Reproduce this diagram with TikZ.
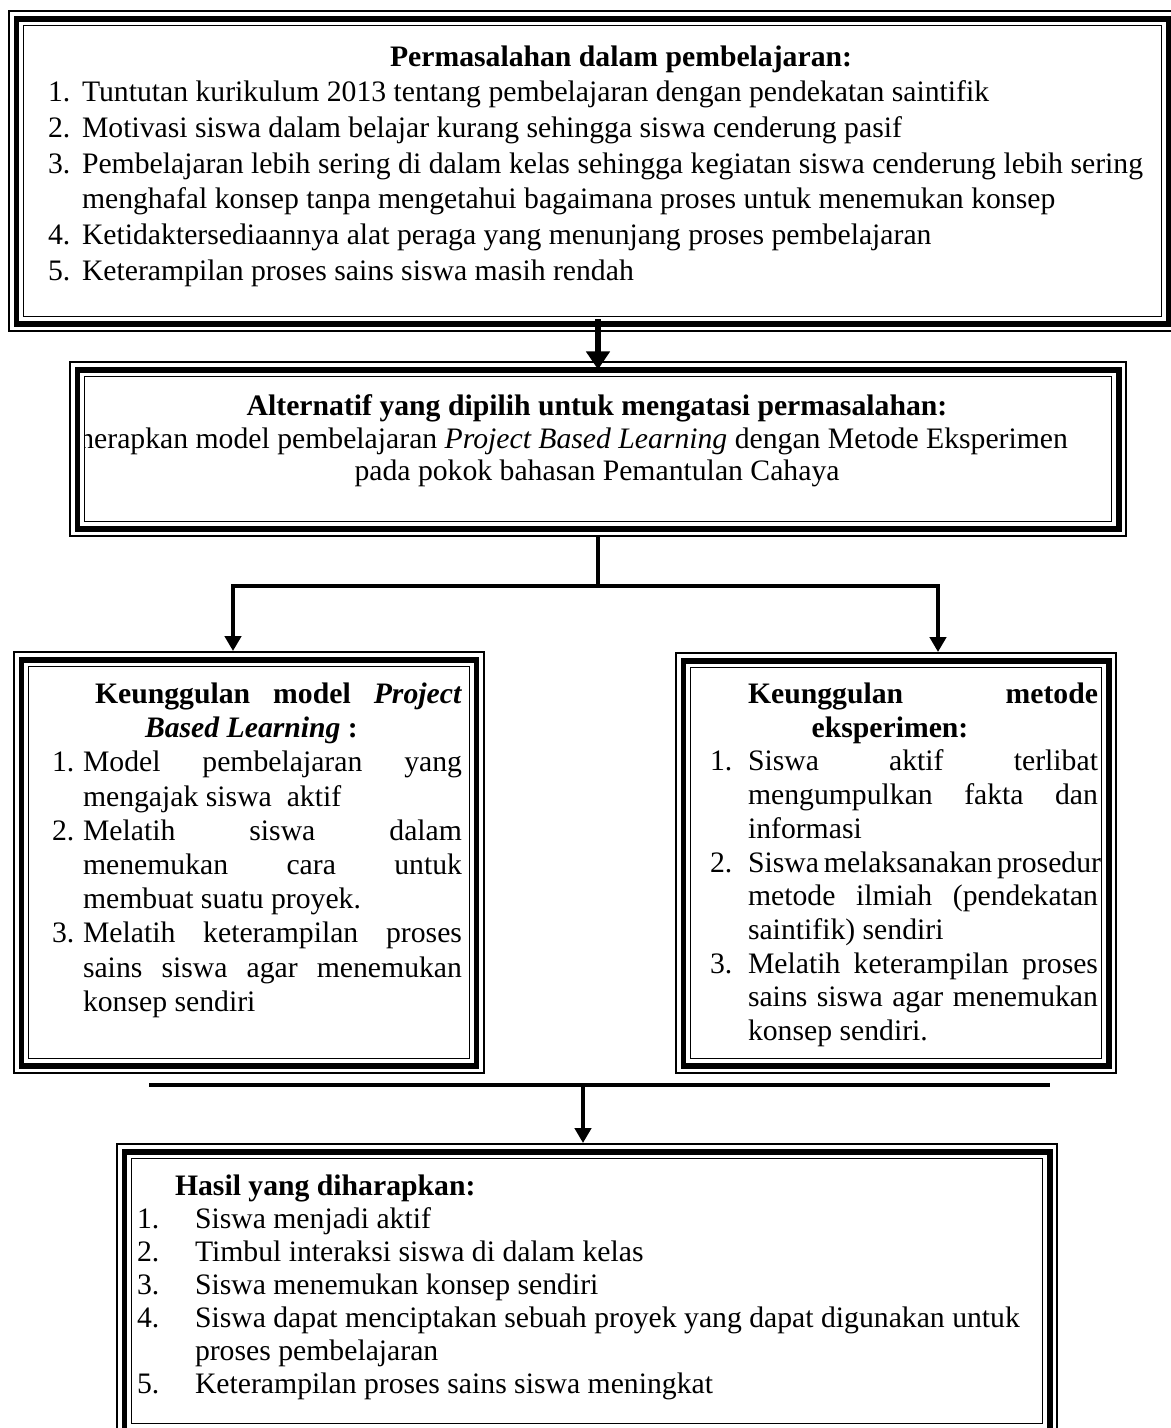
\documentclass[tikz,border=0pt]{standalone}
\usepackage{fontspec}
\setmainfont{Liberation Serif}
\usetikzlibrary{arrows.meta,fit,calc}
\newlength{\pxu}\setlength{\pxu}{0.404pt}
\newcommand{\triframe}[1]{%
  \draw[thinout] ([shift={(1.2,1.2)}]#1.north west) rectangle ([shift={(-1.2,-1.2)}]#1.south east);
  \draw[thickln] ([shift={(8.5,8.5)}]#1.north west) rectangle ([shift={(-8.5,-8.5)}]#1.south east);
  \draw[thinin] ([shift={(15.5,15.5)}]#1.north west) rectangle ([shift={(-15.5,-15.5)}]#1.south east);
}
\begin{document}
\begin{tikzpicture}[x=0.404pt,y=-0.404pt,
  every node/.style={inner sep=0pt, outer sep=0pt},
  frm/.style={rectangle, draw=none, inner sep=0pt},
  thinout/.style={line width=0.97pt},
  thinin/.style={line width=0.75pt},
  thickln/.style={line width=2.42pt},
  tx/.style={anchor=base west, font=\fontsize{12}{14}\selectfont},
  txb/.style={anchor=base west, font=\fontsize{12}{14}\selectfont\bfseries},
  txc/.style={anchor=base, font=\fontsize{12}{14}\selectfont},
  txbc/.style={anchor=base, font=\fontsize{12}{14}\selectfont\bfseries},
  conn/.style={line width=2pt, line join=miter},
  tip/.style={-{Triangle[length=6pt,width=6.5pt]}},
  bigarrow/.style={line width=2.6pt, -{Triangle[length=7.3pt,width=9.3pt]}},
]
\useasboundingbox (0,0) rectangle (1171,1428);
\clip (0,0) rectangle (1171,1428);

% boxes
\node[frm, fit={(8,10) (1177,332)}] (b1) {};
\node[frm, fit={(69,361) (1127,537)}] (b2) {};
\node[frm, fit={(13,651) (485,1074)}] (b3) {};
\node[frm, fit={(675,652) (1117,1074)}] (b4) {};
\node[frm, fit={(116,1143) (1058,1439)}] (b5) {};
\triframe{b1}
\triframe{b2}
\triframe{b3}
\triframe{b4}
\triframe{b5}

% box 1 text
\node[txb] (b1t) at (390,66) {Permasalahan dalam pembelajaran:};
\node[tx] (b1n1) at (48,101) {1.};
\node[tx] (b1l1) at (82,101) {Tuntutan kurikulum 2013 tentang pembelajaran dengan pendekatan saintifik};
\node[tx] (b1n2) at (48,137) {2.};
\node[tx] (b1l2) at (82,137) {Motivasi siswa dalam belajar kurang sehingga siswa cenderung pasif};
\node[tx] (b1n3) at (48,173) {3.};
\node[tx] (b1l3) at (82,173) {\makebox[1061\pxu][s]{Pembelajaran lebih sering di dalam kelas sehingga kegiatan siswa cenderung lebih sering}};
\node[tx] (b1l3b) at (82,208.5) {menghafal konsep tanpa mengetahui bagaimana proses untuk menemukan konsep};
\node[tx] (b1n4) at (48,244) {4.};
\node[tx] (b1l4) at (82,244) {Ketidaktersediaannya alat peraga yang menunjang proses pembelajaran};
\node[tx] (b1n5) at (48,280) {5.};
\node[tx] (b1l5) at (82,280) {Keterampilan proses sains siswa masih rendah};

% box 2 text
\node[txbc] (b2t) at (597,415) {Alternatif yang dipilih untuk mengatasi permasalahan:};
\begin{scope}
\clip ([shift={(16.4,16.4)}]b2.north west) rectangle ([shift={(-16.4,-16.4)}]b2.south east);
\node[anchor=base east, font=\fontsize{12}{14}\selectfont] (b2l1) at (1068,448) {Menerapkan model pembelajaran \textit{Project Based Learning} dengan Metode Eksperimen};
\end{scope}
\node[txc] (b2l2) at (597,480) {pada pokok bahasan Pemantulan Cahaya};

% box 3 text
\node[txb] (b3t1) at (95,703) {\makebox[367\pxu][s]{Keunggulan model \textit{Project}}};
\node[txb] (b3t2) at (145,737) {\textit{Based Learning} :};
\node[tx] (b3n1) at (52,771) {1.};
\node[tx] (b3l1) at (83,771) {\makebox[379\pxu][s]{Model pembelajaran yang}};
\node[tx] (b3l1b) at (83,806) {mengajak siswa\ \ aktif};
\node[tx] (b3n2) at (52,840) {2.};
\node[tx] (b3l2) at (83,840) {\makebox[379\pxu][s]{Melatih siswa dalam}};
\node[tx] (b3l2b) at (83,874) {\makebox[379\pxu][s]{menemukan cara untuk}};
\node[tx] (b3l2c) at (83,908) {membuat suatu proyek.};
\node[tx] (b3n3) at (52,942) {3.};
\node[tx] (b3l3) at (83,942) {\makebox[379\pxu][s]{Melatih keterampilan proses}};
\node[tx] (b3l3b) at (83,977) {\makebox[379\pxu][s]{sains siswa agar menemukan}};
\node[tx] (b3l3c) at (83,1011) {konsep sendiri};

% box 4 text
\node[txb] (b4t1) at (748,703) {\makebox[350\pxu][s]{Keunggulan metode}};
\node[txbc] (b4t2) at (890,737) {eksperimen:};
\node[tx] (b4n1) at (710,770) {1.};
\node[tx] (b4l1) at (748,770) {\makebox[350\pxu][s]{Siswa aktif terlibat}};
\node[tx] (b4l1b) at (748,804) {\makebox[350\pxu][s]{mengumpulkan fakta dan}};
\node[tx] (b4l1c) at (748,838) {informasi};
\node[tx] (b4n2) at (710,872) {2.};
\node[tx] (b4l2) at (748,872) {\makebox[350\pxu][s]{Siswa melaksanakan prosedur}};
\node[tx] (b4l2b) at (748,905) {\makebox[350\pxu][s]{metode ilmiah (pendekatan}};
\node[tx] (b4l2c) at (748,939) {saintifik) sendiri};
\node[tx] (b4n3) at (710,973) {3.};
\node[tx] (b4l3) at (748,973) {\makebox[350\pxu][s]{Melatih keterampilan proses}};
\node[tx] (b4l3b) at (748,1006) {\makebox[350\pxu][s]{sains siswa agar menemukan}};
\node[tx] (b4l3c) at (748,1040) {konsep sendiri.};

% box 5 text
\node[txb] (b5t) at (175,1195) {Hasil yang diharapkan:};
\node[tx] (b5n1) at (137,1228) {1.};
\node[tx] (b5l1) at (195,1228) {Siswa menjadi aktif};
\node[tx] (b5n2) at (137,1261) {2.};
\node[tx] (b5l2) at (195,1261) {Timbul interaksi siswa di dalam kelas};
\node[tx] (b5n3) at (137,1294) {3.};
\node[tx] (b5l3) at (195,1294) {Siswa menemukan konsep sendiri};
\node[tx] (b5n4) at (137,1327) {4.};
\node[tx] (b5l4) at (195,1327) {Siswa dapat menciptakan sebuah proyek yang dapat digunakan untuk};
\node[tx] (b5l4b) at (195,1360) {proses pembelajaran};
\node[tx] (b5n5) at (137,1393) {5.};
\node[tx] (b5l5) at (195,1393) {Keterampilan proses sains siswa meningkat};

% connectors
\draw[bigarrow] ($(b2.north |- b1.south)+(0,-13)$) -- ($(b2.north)+(0,8.5)$);
\coordinate (j1) at ($(b2.south)+(0,49)$);
\coordinate (jl) at (233,586);
\coordinate (jr) at (938,586);
\draw[conn] (b2.south) -- (j1);
\draw[conn,tip] (j1) -| (jl |- b3.north);
\draw[conn,tip] (j1) -| (jr |- b4.north);
\coordinate (hl) at (149,1085);
\coordinate (hr) at (1050,1085);
\coordinate (j2) at (583,1085);
\draw[conn] (hl) -- (hr);
\draw[conn,tip] (j2) -- (j2 |- b5.north);
\end{tikzpicture}
\end{document}
